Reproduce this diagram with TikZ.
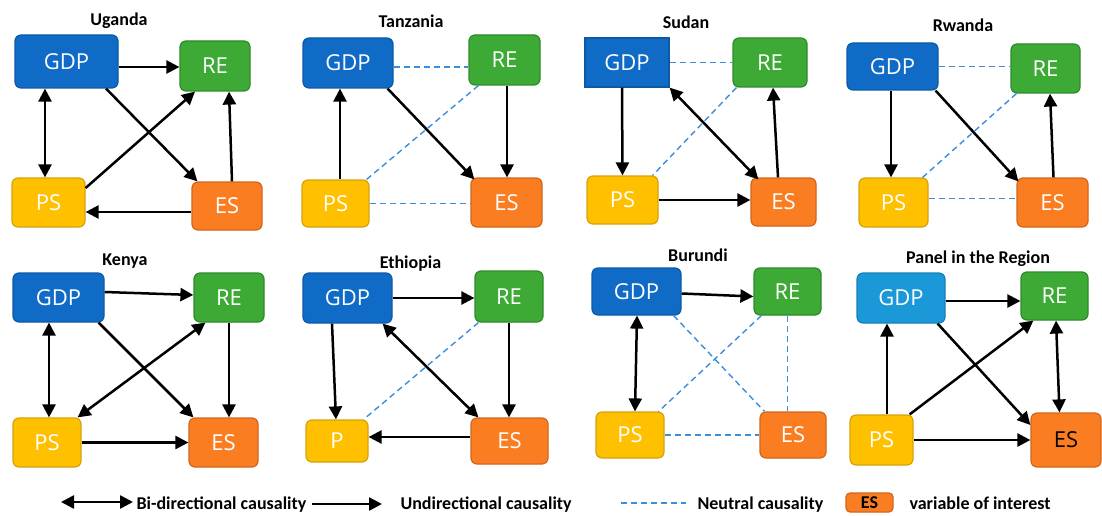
\documentclass[tikz,border=0pt]{standalone}
\usepackage{fontspec}
\setmainfont{Carlito}
\newfontfamily\boxfont{Open Sans}
\usepackage{xcolor}
\usepackage{tikz}
\usetikzlibrary{arrows.meta,calc}

\definecolor{gdpblue}{HTML}{0F6BC6}
\definecolor{gdpline}{HTML}{0C5AA6}
\definecolor{panelblue}{HTML}{1B98D8}
\definecolor{panelline}{HTML}{1580B8}
\definecolor{regreen}{HTML}{3DAA35}
\definecolor{reline}{HTML}{2E8A2A}
\definecolor{psyellow}{HTML}{FFC000}
\definecolor{psline}{HTML}{D6A20A}
\definecolor{esorange}{HTML}{FB7D22}
\definecolor{esline}{HTML}{D0661C}
\definecolor{neutralblue}{HTML}{3C8DDC}

\tikzset{
  var/.style={draw, rounded corners=6pt, line width=1.2pt, inner sep=0pt,
    text=white, font=\boxfont\fontsize{22}{24}\selectfont},
  gdpbox/.style={var, fill=gdpblue, draw=gdpline},
  rebox/.style={var, fill=regreen, draw=reline},
  psbox/.style={var, fill=psyellow, draw=psline},
  esbox/.style={var, fill=esorange, draw=esline},
  wh/.style 2 args={minimum width=#1pt, minimum height=#2pt},
  uni/.style={line width=2.5pt, -{Triangle[length=13pt,width=13pt]}},
  bi/.style={line width=2.5pt,
    {Triangle[length=13pt,width=13pt]}-{Triangle[length=13pt,width=13pt]}},
  neutral/.style={color=neutralblue, line width=1.4pt, dash pattern=on 6pt off 4pt},
  country/.style={anchor=base, font=\bfseries\fontsize{18}{20}\selectfont},
  legendtext/.style={anchor=base west, font=\bfseries\fontsize{18}{20}\selectfont}
}

\begin{document}
\begin{tikzpicture}[x=1pt,y=-1pt]
    \useasboundingbox (0,0) rectangle (1102,516);

    % Uganda
    \node[country] (ug) at (119,25.5) {Uganda};
    \node[gdpbox, wh={103}{53}] (ug-gdp) at (66.5,61.5) {GDP};
    \node[rebox, wh={70}{50}] (ug-re) at (215,66) {RE};
    \node[psbox, wh={73}{49}] (ug-ps) at (48.5,202.5) {PS};
    \node[esbox, wh={70}{48}] (ug-es) at (227,206) {ES};
    \path ($(ug-gdp.east)+(0,5.5)$) edge[uni] ($(ug-re.west)+(0,1)$);
    \path ($(ug-gdp.south)+(-21.5,0)$) edge[bi] ($(ug-ps.north)+(-3.5,0)$);
    \path ($(ug-ps.east)+(0,-14.5)$) edge[uni] ($(ug-re.south)+(-20,0)$);
    \path ($(ug-gdp.south)+(39.5,0)$) edge[uni] ($(ug-es.north west)+(6,0)$);
    \path ($(ug-es.north)+(5,0)$) edge[uni] ($(ug-re.south)+(14,0)$);
    \path ($(ug-es.west)+(0,6)$) edge[uni] ($(ug-ps.east)+(0,9.5)$);

    % Tanzania
    \node[country] (tz) at (411,27.5) {Tanzania};
    \node[gdpbox, wh={90}{50}] (tz-gdp) at (348,63) {GDP};
    \node[rebox, wh={71}{50}] (tz-re) at (504.5,60) {RE};
    \node[psbox, wh={67}{47}] (tz-ps) at (335.5,203.5) {PS};
    \node[esbox, wh={71}{49}] (tz-es) at (506.5,202.5) {ES};
    \path ($(tz-gdp.east)+(0,4)$) edge[neutral] ($(tz-re.west)+(0,7)$);
    \path ($(tz-ps.north)+(4.5,0)$) edge[uni] ($(tz-gdp.south)+(-8,0)$);
    \path ($(tz-gdp.south east)+(-6,0)$) edge[uni] ($(tz-es.north west)+(4,2)$);
    \path ($(tz-re.south)+(2.5,0)$) edge[uni] ($(tz-es.north)+(0.5,0)$);
    \path ($(tz-re.south west)+(10,0)$) edge[neutral] ($(tz-ps.north east)+(-3,0)$);
    \path (tz-ps.east) edge[neutral] (tz-ps.east -| tz-es.west);

    % Sudan
    \node[country] (sd) at (686,29) {Sudan};
    \node[gdpbox, sharp corners, wh={84}{49}] (sd-gdp) at (627,62.5) {GDP};
    \node[rebox, wh={74}{49}] (sd-re) at (770,62.5) {RE};
    \node[psbox, wh={71}{48}] (sd-ps) at (622.5,200) {PS};
    \node[esbox, wh={65}{48}] (sd-es) at (783.5,202) {ES};
    \path (sd-gdp.east) edge[neutral] (sd-re.west);
    \path ($(sd-gdp.south)+(-5,0)$) edge[uni] (sd-ps.north);
    \path (sd-gdp.south east) edge[bi] ($(sd-es.north west)+(8,2)$);
    \path ($(sd-es.north)+(-5.5,0)$) edge[uni] ($(sd-re.south)+(3,0)$);
    \path ($(sd-re.south west)+(4,0)$) edge[neutral] ($(sd-ps.north east)+(-6,0)$);
    \path (sd-ps.east) edge[uni] (sd-ps.east -| sd-es.west);

    % Rwanda
    \node[country] (rw) at (963,32) {Rwanda};
    \node[gdpbox, wh={91}{47}] (rw-gdp) at (892.5,66.5) {GDP};
    \node[rebox, wh={69}{49}] (rw-re) at (1045.5,68.5) {RE};
    \node[psbox, wh={69}{49}] (rw-ps) at (893.5,202.5) {PS};
    \node[esbox, wh={71}{49}] (rw-es) at (1052.5,202.5) {ES};
    \path (rw-gdp.east) edge[neutral] (rw-gdp.east -| rw-re.west);
    \path ($(rw-gdp.south)+(-1.5,0)$) edge[uni] ($(rw-ps.north)+(-2.5,0)$);
    \path ($(rw-gdp.south east)+(-3,0)$) edge[uni] ($(rw-es.north west)+(2,4)$);
    \path ($(rw-es.north)+(1,0)$) edge[uni] ($(rw-re.south)+(4.5,0)$);
    \path ($(rw-re.south west)+(6,0)$) edge[neutral] ($(rw-ps.north east)+(-6,0)$);
    \path ($(rw-ps.east)+(0,-4)$) edge[neutral] ($(rw-es.west)+(0,-4)$);

    % Kenya
    \node[country] (ke) at (125,265) {Kenya};
    \node[gdpbox, wh={91}{49}] (ke-gdp) at (58.5,297.5) {GDP};
    \node[rebox, wh={70}{49}] (ke-re) at (229,297.5) {RE};
    \node[psbox, wh={68}{49}] (ke-ps) at (47,442.5) {PS};
    \node[esbox, wh={69}{49}] (ke-es) at (223.5,442.5) {ES};
    \path ($(ke-gdp.east)+(0,-5.5)$) edge[uni] ($(ke-re.west)+(0,-2.5)$);
    \path ($(ke-gdp.south)+(-9.5,0)$) edge[bi] ($(ke-ps.north)+(2,0)$);
    \path ($(ke-re.south west)+(12,0)$) edge[bi] ($(ke-ps.north east)+(-4,0)$);
    \path ($(ke-gdp.south east)+(-6,0)$) edge[uni] ($(ke-es.north west)+(5,0)$);
    \path (ke-re.south) edge[uni] ($(ke-es.north)+(5.5,0)$);
    \path (ke-ps.east) edge[uni] (ke-es.west);

    % Ethiopia
    \node[country] (et) at (410.5,268) {Ethiopia};
    \node[gdpbox, wh={89}{50}] (et-gdp) at (347.5,298) {GDP};
    \node[rebox, wh={68}{51}] (et-re) at (509,296.5) {RE};
    \node[psbox, wh={62}{42}] (et-p) at (337,441) {P};
    \node[esbox, wh={77}{46}] (et-es) at (509.5,441) {ES};
    \path (et-gdp.east) edge[uni] (et-gdp.east -| et-re.west);
    \path ($(et-gdp.south)+(-15.5,0)$) edge[uni] ($(et-p.north)+(-1,0)$);
    \path ($(et-gdp.south east)+(-10,0)$) edge[bi] ($(et-es.north west)+(8,0)$);
    \path (et-re.south) edge[uni] (et-re.south |- et-es.north);
    \path ($(et-re.south west)+(4,0)$) edge[neutral] ($(et-p.north east)+(-5,0)$);
    \path ($(et-es.west)+(0,-4)$) edge[uni] ($(et-p.east)+(0,-4)$);

    % Burundi
    \node[country] (bu) at (698,261) {Burundi};
    \node[gdpbox, wh={89}{47}] (bu-gdp) at (636.5,291.5) {GDP};
    \node[rebox, wh={67}{47}] (bu-re) at (787.5,291.5) {RE};
    \node[psbox, wh={68}{46}] (bu-ps) at (630,435) {PS};
    \node[esbox, wh={66}{46}] (bu-es) at (793,435) {ES};
    \path ($(bu-gdp.east)+(0,2)$) edge[uni] ($(bu-re.west)+(0,5)$);
    \path ($(bu-gdp.south)+(0.5,0)$) edge[bi] ($(bu-ps.north)+(5,0)$);
    \path ($(bu-gdp.south east)+(-8,0)$) edge[neutral] ($(bu-es.north west)+(5,0)$);
    \path ($(bu-re.south west)+(8,0)$) edge[neutral] ($(bu-ps.north east)+(-6,0)$);
    \path (bu-re.south) edge[neutral] (bu-re.south |- bu-es.north);
    \path (bu-ps.east) edge[neutral] (bu-es.west);

    % Panel in the Region
    \node[country] (rg) at (978,263) {Panel in the Region};
    \node[gdpbox, fill=panelblue, draw=panelline, wh={88}{50}] (rg-gdp) at (901,298) {GDP};
    \node[rebox, wh={67}{48}] (rg-re) at (1054.5,296) {RE};
    \node[psbox, wh={63}{50}] (rg-ps) at (881.5,440) {PS};
    \node[esbox, text=black, wh={70}{54}] (rg-es) at (1066,440) {ES};
    \path ($(rg-gdp.east)+(0,3)$) edge[uni] ($(rg-re.west)+(0,5)$);
    \path ($(rg-ps.north)+(5.5,0)$) edge[uni] ($(rg-gdp.south)+(-14,0)$);
    \path ($(rg-ps.north east)+(-4,0)$) edge[uni] ($(rg-re.south west)+(13,0)$);
    \path ($(rg-gdp.south east)+(-8,0)$) edge[uni] ($(rg-es.west)+(0,-15)$);
    \path ($(rg-re.south)+(1.5,0)$) edge[bi] ($(rg-es.north)+(-6.5,0)$);
    \path (rg-ps.east) edge[uni] (rg-es.west);

    % legend
    \coordinate (lg-bi-a) at (61,502);
    \node[legendtext] (lg-bi) at (133,509) {Bi-directional causality};
    \path (lg-bi-a) edge[bi] (lg-bi.west |- lg-bi-a);
    \coordinate (lg-uni-a) at (312,504);
    \node[legendtext] (lg-uni) at (397,509) {Undirectional causality};
    \path (lg-uni-a) edge[uni] ($(lg-uni.west |- lg-uni-a)+(-15,0)$);
    \coordinate (lg-neu-a) at (621,503);
    \node[legendtext] (lg-neu) at (694,509) {Neutral causality};
    \path (lg-neu-a) edge[neutral] ($(lg-neu.west |- lg-neu-a)+(-8,0)$);
    \node[esbox, rounded corners=4pt, text=black, wh={47}{19},
      font=\bfseries\fontsize{18}{18}\selectfont] (lg-es) at (869.5,502.5) {ES};
    \node[legendtext] (lg-var) at (906,509) {variable of interest};
\end{tikzpicture}
\end{document}
